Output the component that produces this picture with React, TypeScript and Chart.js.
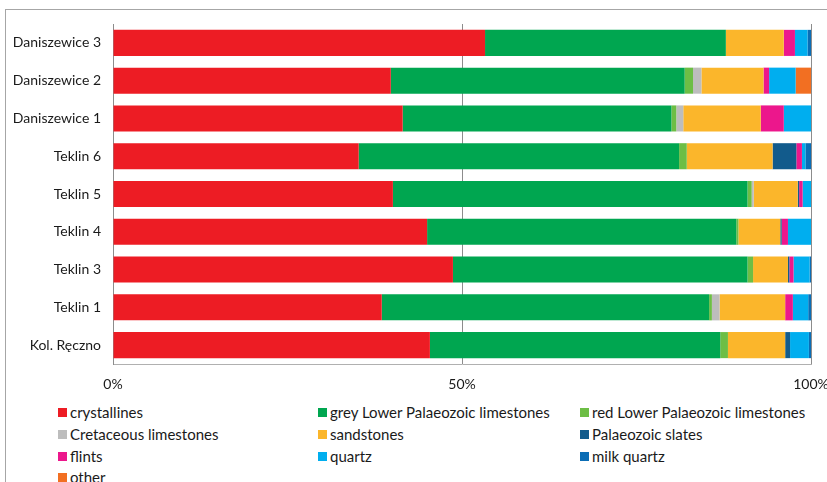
import React, { useEffect, useRef } from "react";
import { Chart, registerables } from "chart.js";

Chart.register(...registerables);

const categories = [
  "Daniszewice 3",
  "Daniszewice 2",
  "Daniszewice 1",
  "Teklin 6",
  "Teklin 5",
  "Teklin 4",
  "Teklin 3",
  "Teklin 1",
  "Kol. Ręczno",
];

const crystallines = [53.3, 39.8, 41.5, 35.2, 40.1, 45.0, 48.7, 38.5, 45.4];
const greyLimestones = [34.5, 42.1, 38.5, 45.9, 50.8, 44.3, 42.2, 46.9, 41.6];
const redLimestones = [0, 1.2, 0.7, 1.1, 0.6, 0.3, 0.8, 0.4, 1.1];
const cretaceous = [0, 1.2, 1.0, 0, 0.3, 0, 0, 1.1, 0];
const sandstones = [8.3, 8.9, 11.1, 12.3, 6.3, 6.0, 5.0, 9.4, 8.2];
const slates = [0, 0, 0, 3.4, 0.2, 0.2, 0.2, 0, 0.7];
const flints = [1.6, 0.8, 3.3, 0.8, 0.5, 0.9, 0.6, 1.1, 0];
const quartz = [1.8, 3.8, 3.9, 0.5, 1.2, 3.3, 2.3, 2.2, 2.7];
const milkQuartz = [0.5, 0, 0, 0.8, 0, 0, 0.2, 0.4, 0.3];
const other = [0, 2.2, 0, 0, 0, 0, 0, 0, 0];

const xTicks = [0, 50, 100];

const seriesNames = [
  "crystallines",
  "grey Lower Palaeozoic limestones",
  "red Lower Palaeozoic limestones",
  "Cretaceous limestones",
  "sandstones",
  "Palaeozoic slates",
  "flints",
  "quartz",
  "milk quartz",
  "other",
];
const seriesData = [
  crystallines,
  greyLimestones,
  redLimestones,
  cretaceous,
  sandstones,
  slates,
  flints,
  quartz,
  milkQuartz,
  other,
];
const seriesColors = [
  "#ED1C24",
  "#00A650",
  "#6DBE45",
  "#BDBDBD",
  "#FBB62B",
  "#125B8C",
  "#EC178C",
  "#00AEEF",
  "#0B6DB5",
  "#F26F22",
];

const FONT = "Lato, 'Open Sans', sans-serif";

export default function App() {
  const ref = useRef<HTMLCanvasElement | null>(null);

  useEffect(() => {
    document.body.style.margin = "0";
    const canvas = ref.current;
    if (!canvas) return;
    const chart = new Chart(canvas, {
      type: "bar",
      data: {
        labels: categories,
        datasets: seriesNames.map((name, i) => ({
          label: name,
          data: seriesData[i],
          backgroundColor: seriesColors[i],
          borderWidth: 0,
          categoryPercentage: 1,
          barPercentage: 0.69,
        })),
      },
      options: {
        indexAxis: "y",
        animation: false,
        responsive: false,
        layout: { padding: { top: 24, right: 16, left: 0, bottom: 0 } },
        plugins: { legend: { display: false }, tooltip: { enabled: false } },
        scales: {
          x: {
            stacked: true,
            min: 0,
            max: 100,
            afterFit: (s: any) => {
              s.height = 36;
              s.paddingLeft = 0;
              s.paddingRight = 0;
            },
            afterBuildTicks: (s: any) => {
              s.ticks = xTicks.map((v) => ({ value: v }));
            },
            ticks: {
              padding: 12,
              color: "#1a1a1a",
              font: { family: FONT, size: 14 },
              callback: (v: any) => v + "%",
              maxRotation: 0,
            },
            grid: { color: "#8c8c8c", lineWidth: 1, drawTicks: false },
            border: { display: true, color: "#b0b0b0" },
          },
          y: {
            stacked: true,
            afterFit: (s: any) => {
              s.width = 113;
              s.paddingTop = 0;
              s.paddingBottom = 0;
            },
            ticks: {
              padding: 12,
              color: "#1a1a1a",
              font: { family: FONT, size: 14 },
            },
            grid: { display: false, drawTicks: false },
            border: { display: true, color: "#8c8c8c" },
          },
        },
      },
    });
    return () => chart.destroy();
  }, []);

  const colX = [58, 318, 580];
  const rowY = [412, 434, 456, 477];

  return (
    <div style={{ position: "relative", width: 827, height: 482, overflow: "hidden", fontFamily: FONT }}>
      <div
        style={{
          position: "absolute",
          left: 5,
          top: 9,
          width: 822,
          height: 473,
          borderLeft: "1px solid #a6a6a6",
          borderTop: "1px solid #a6a6a6",
          boxSizing: "border-box",
        }}
      />
      <canvas
        ref={ref}
        width={827}
        height={400}
        style={{ position: "absolute", left: 0, top: 0, width: 827, height: 400 }}
      />
      {seriesNames.map((name, i) => {
        const col = i % 3;
        const row = Math.floor(i / 3);
        return (
          <div
            key={name}
            style={{
              position: "absolute",
              left: colX[col],
              top: rowY[row] - 10,
              height: 20,
              display: "flex",
              alignItems: "center",
              fontSize: 15,
              color: "#1a1a1a",
              whiteSpace: "nowrap",
            }}
          >
            <span
              style={{
                display: "inline-block",
                width: 9,
                height: 9,
                background: seriesColors[i],
                marginRight: 3,
              }}
            />
            <span>{name}</span>
          </div>
        );
      })}
    </div>
  );
}
